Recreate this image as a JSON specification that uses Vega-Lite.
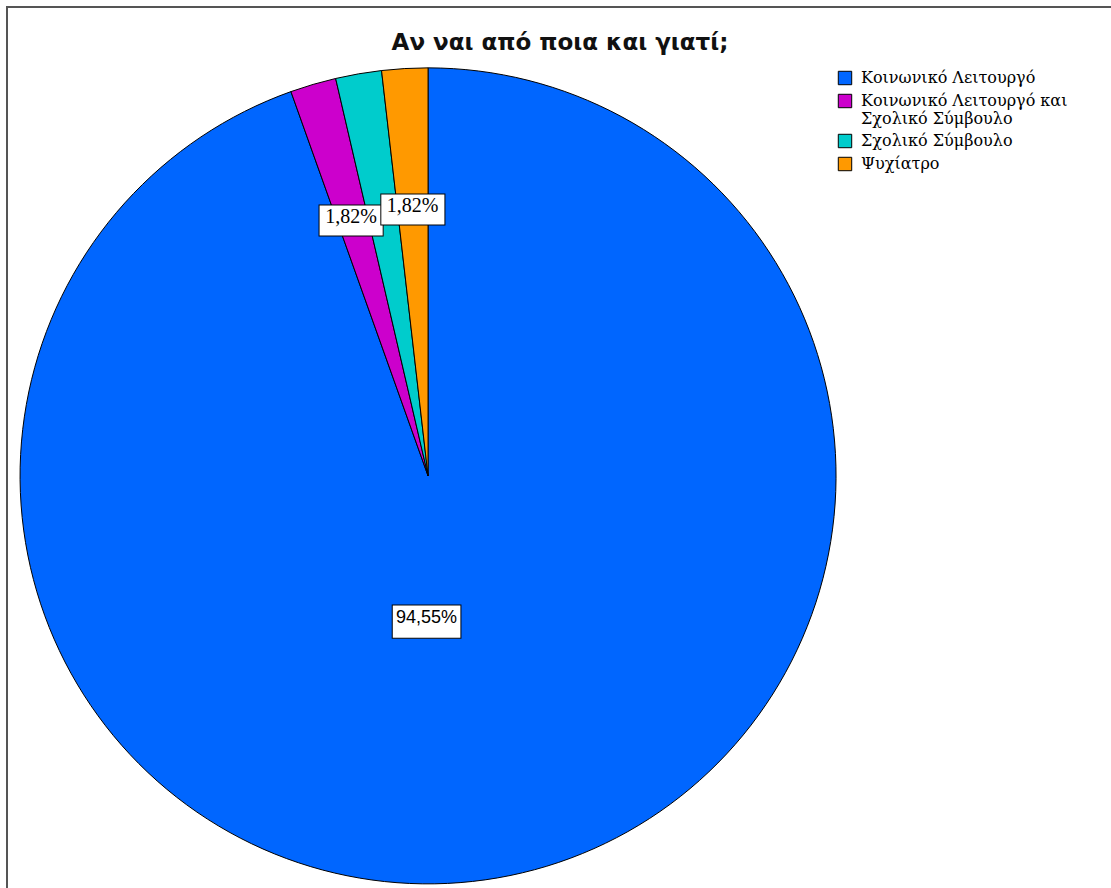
{
  "$schema": "https://vega.github.io/schema/vega-lite/v6.json",
  "width": 1106,
  "height": 883,
  "autosize": "none",
  "padding": {"left": 7, "top": 7, "right": 0, "bottom": 0},
  "background": "white",
  "view": {"stroke": "#555555", "strokeWidth": 2},
  "config": {"view": {"stroke": "#555555", "strokeWidth": 2}},
  "title": {
    "text": "Αν ναι από ποια και γιατί;",
    "font": "DejaVu Sans",
    "fontSize": 23,
    "fontWeight": "bold",
    "color": "#111111",
    "anchor": "middle",
    "baseline": "alphabetic",
    "offset": -66
  },
  "data": {
    "values": [
      {"cat": "Κοινωνικό Λειτουργό", "n": 52, "pct": "94,55%"},
      {"cat": "Κοινωνικό Λειτουργό και Σχολικό Σύμβουλο", "n": 1, "pct": "1,82%"},
      {"cat": "Σχολικό Σύμβουλο", "n": 1, "pct": "1,82%"},
      {"cat": "Ψυχίατρο", "n": 1, "pct": "1,82%"}
    ]
  },
  "encoding": {
    "theta": {"field": "n", "type": "quantitative", "stack": true},
    "order": {"field": "cat"}
  },
  "layer": [
    {
      "mark": {"type": "arc", "radius": 408, "stroke": "black", "strokeWidth": 1, "x": {"expr": "width*0.3807"}, "y": {"expr": "height*0.531"}},
      "encoding": {
        "color": {
          "field": "cat",
          "type": "nominal",
          "scale": {
            "domain": ["Κοινωνικό Λειτουργό", "Κοινωνικό Λειτουργό και Σχολικό Σύμβουλο", "Σχολικό Σύμβουλο", "Ψυχίατρο"],
            "range": ["#0066ff", "#cc00cc", "#00cccc", "#ff9900"]
          },
          "legend": {
            "orient": "none",
            "legendX": 830,
            "legendY": 63,
            "title": null,
            "symbolType": "square",
            "symbolSize": 180,
            "symbolStrokeColor": "black",
            "symbolStrokeWidth": 1,
            "labelFont": "DejaVu Serif",
            "labelFontSize": 16,
            "labelColor": "black",
            "labelLimit": 300,
            "labelOffset": 8,
            "rowPadding": 5,
            "labelExpr": "datum.label == 'Κοινωνικό Λειτουργό και Σχολικό Σύμβουλο' ? ['Κοινωνικό Λειτουργό και', 'Σχολικό Σύμβουλο'] : datum.label"
          }
        }
      }
    },
    {
      "mark": {"type": "text", "radius": 144, "dx": -26, "font": "DejaVu Sans", "fontSize": 90, "fill": "white", "stroke": "black", "strokeWidth": 1, "x": {"expr": "width*0.3807"}, "y": {"expr": "height*0.531"}},
      "encoding": {"text": {"condition": {"test": "datum.cat == 'Κοινωνικό Λειτουργό'", "value": "▬"}, "value": ""}}
    },
    {
      "mark": {"type": "text", "radius": 144, "dx": -26, "font": "Liberation Sans", "fontSize": 18, "fill": "black", "x": {"expr": "width*0.3807"}, "y": {"expr": "height*0.531"}},
      "encoding": {"text": {"condition": {"test": "datum.cat == 'Κοινωνικό Λειτουργό'", "field": "pct"}, "value": ""}}
    },
    {
      "mark": {"type": "text", "radius": 270, "dx": -1, "font": "DejaVu Sans", "fontSize": 84, "fill": "white", "stroke": "black", "strokeWidth": 1, "x": {"expr": "width*0.3807"}, "y": {"expr": "height*0.531"}},
      "encoding": {"text": {"condition": {"test": "datum.cat == 'Κοινωνικό Λειτουργό και Σχολικό Σύμβουλο'", "value": "▬"}, "value": ""}}
    },
    {
      "mark": {"type": "text", "radius": 270, "dx": -1, "font": "Liberation Serif", "fontSize": 20, "fill": "black", "x": {"expr": "width*0.3807"}, "y": {"expr": "height*0.531"}},
      "encoding": {"text": {"condition": {"test": "datum.cat == 'Κοινωνικό Λειτουργό και Σχολικό Σύμβουλο'", "field": "pct"}, "value": ""}}
    },
    {
      "mark": {"type": "text", "radius": 270, "dx": 0, "dy": 0, "font": "DejaVu Sans", "fontSize": 84, "fill": "white", "stroke": "black", "strokeWidth": 1, "x": {"expr": "width*0.3807"}, "y": {"expr": "height*0.531"}},
      "encoding": {"text": {"condition": {"test": "datum.cat == 'Ψυχίατρο'", "value": "▬"}, "value": ""}}
    },
    {
      "mark": {"type": "text", "radius": 270, "dx": 0, "dy": 0, "font": "Liberation Serif", "fontSize": 20, "fill": "black", "x": {"expr": "width*0.3807"}, "y": {"expr": "height*0.531"}},
      "encoding": {"text": {"condition": {"test": "datum.cat == 'Ψυχίατρο'", "field": "pct"}, "value": ""}}
    }
  ]
}
